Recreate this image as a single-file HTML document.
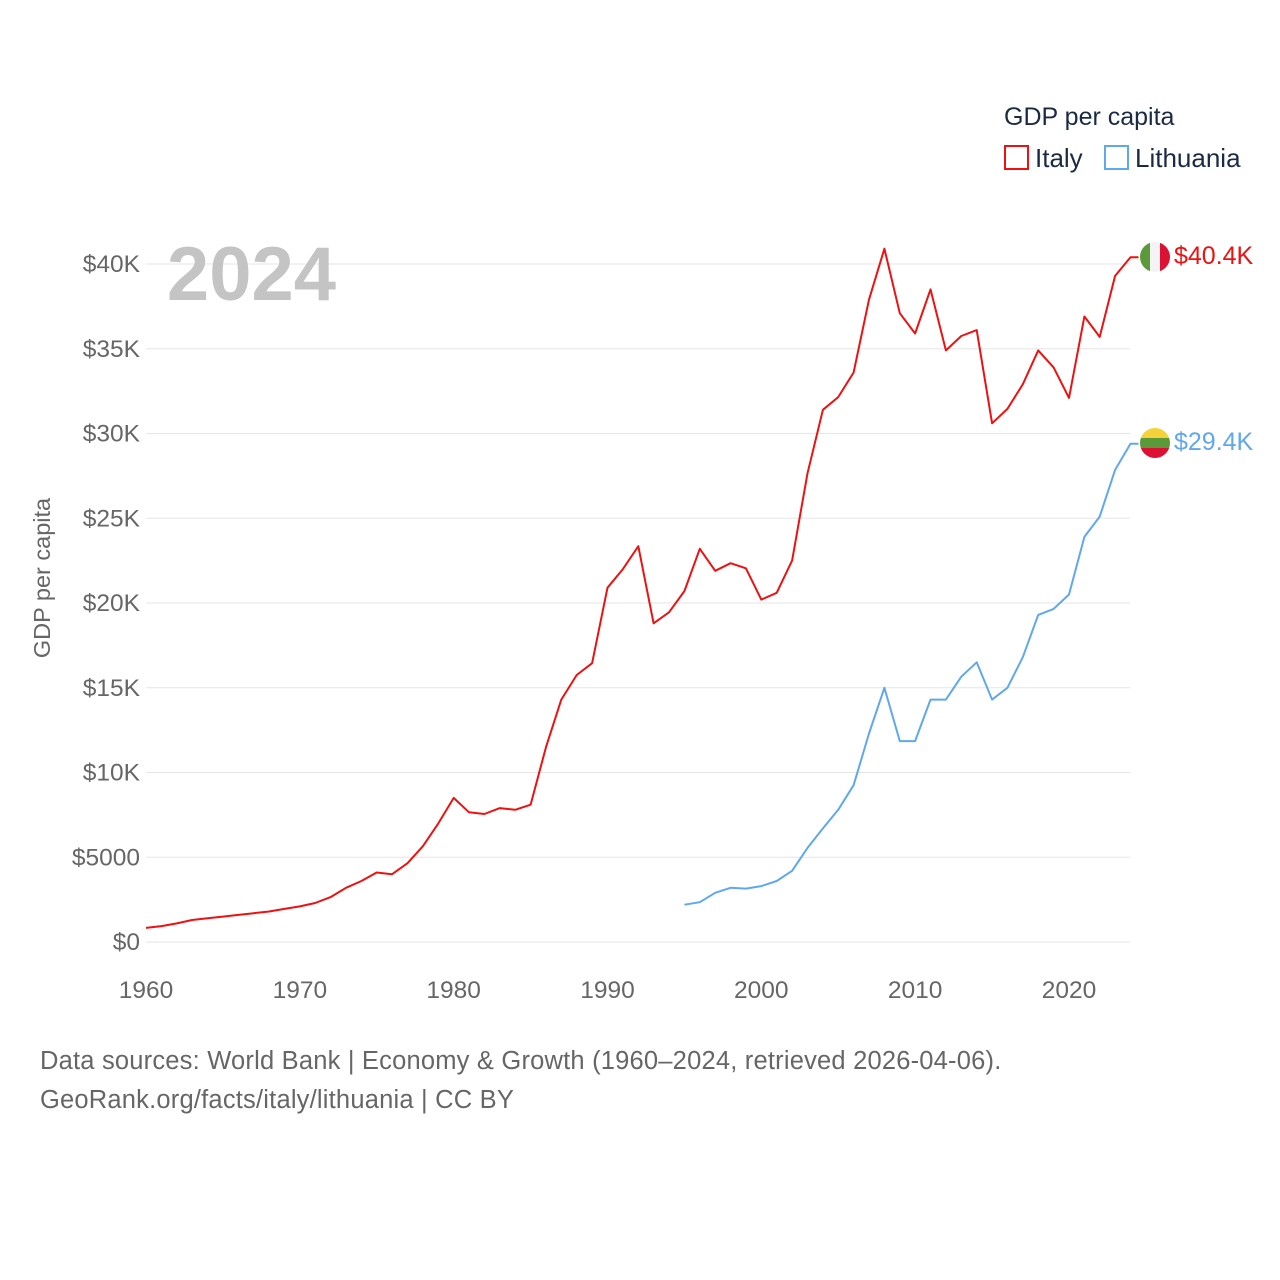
<!DOCTYPE html>
<html><head><meta charset="utf-8"><style>
body{margin:0;background:#fff;font-family:"Liberation Sans",sans-serif;}
svg{display:block}
</style></head><body>
<svg id="chart" width="1280" height="1280" xmlns="http://www.w3.org/2000/svg">
<g id="grid"></g>
<g id="yt"></g>
<g id="xt"></g>
<text x="336" y="300" font-size="76" font-weight="bold" fill="#c4c4c4" text-anchor="end">2024</text>
<text transform="translate(50,578) rotate(-90)" font-size="23.5" fill="#666" text-anchor="middle">GDP per capita</text>
<text x="1004" y="125" font-size="25" fill="#1a2a44">GDP per capita</text>
<g><rect x="1005" y="146" width="23" height="23" fill="none" stroke="#ee1111" stroke-width="2"/><text x="1035" y="167" font-size="26" fill="#1a2a44">Italy</text></g>
<g><rect x="1105" y="146" width="23" height="23" fill="none" stroke="#5fa8ee" stroke-width="2"/><text x="1135" y="167" font-size="26" fill="#1a2a44">Lithuania</text></g>
<g id="series"></g>
<g>
<clipPath id="c1"><circle cx="1155" cy="257" r="15"/></clipPath>
<g clip-path="url(#c1)"><rect x="1140" y="242" width="10" height="30" fill="#5a9a3a"/><rect x="1150" y="242" width="10" height="30" fill="#f4f4f4"/><rect x="1160" y="242" width="10" height="30" fill="#dd1133"/></g></g>
<g>
<clipPath id="c2"><circle cx="1155" cy="443" r="15"/></clipPath>
<g clip-path="url(#c2)"><rect x="1140" y="428" width="30" height="10" fill="#f5d13a"/><rect x="1140" y="438" width="30" height="10" fill="#5a9a3a"/><rect x="1140" y="448" width="30" height="10" fill="#dd1133"/></g></g>
<text x="1174" y="264" font-size="25" fill="#ee1111">$40.4K</text>
<text x="1174" y="450" font-size="25" fill="#5fa8ee">$29.4K</text>
<text x="40" y="1069" font-size="25.5" letter-spacing="0.2" fill="#666">Data sources: World Bank | Economy &amp; Growth (1960–2024, retrieved 2026-04-06).</text>
<text x="40" y="1108" font-size="25.5" letter-spacing="0.2" fill="#666">GeoRank.org/facts/italy/lithuania | CC BY</text>
</svg>
<script>
const italyStart = 1960;
const italyValues = [0.83,0.94,1.1,1.3,1.4,1.5,1.6,1.7,1.8,1.95,2.1,2.3,2.65,3.2,3.6,4.1,4.0,4.65,5.65,7.0,8.5,7.65,7.55,7.9,7.8,8.1,11.5,14.3,15.75,16.45,20.9,22.0,23.35,18.8,19.45,20.7,23.2,21.9,22.35,22.05,20.2,20.6,22.5,27.65,31.4,32.15,33.6,37.9,40.9,37.1,35.9,38.5,34.9,35.75,36.1,30.6,31.45,32.9,34.9,33.9,32.1,36.9,35.7,39.3,40.4];
const lithStart = 1995;
const lithValues = [2.2,2.35,2.9,3.2,3.15,3.3,3.6,4.2,5.55,6.7,7.8,9.25,12.3,15.0,11.85,11.85,14.3,14.3,15.65,16.5,14.3,15.0,16.8,19.3,19.65,20.5,23.9,25.1,27.85,29.4];
const yTicks = [0,5,10,15,20,25,30,35,40];
const yTickLabels = ["$0","$5000","$10K","$15K","$20K","$25K","$30K","$35K","$40K"];
const xTicks = [1960,1970,1980,1990,2000,2010,2020];

const NS="http://www.w3.org/2000/svg";
const xs = yr => 146 + (yr-1960)*15.383;
const ys = v => 942 - v*16.95;
function mk(tag,attrs,parent){const e=document.createElementNS(NS,tag);for(const k in attrs)e.setAttribute(k,attrs[k]);parent.appendChild(e);return e;}
const grid=document.getElementById('grid'),yt=document.getElementById('yt'),xt=document.getElementById('xt'),series=document.getElementById('series');
yTicks.forEach((v,i)=>{
  const l=mk('line',{x1:146,x2:1130,y1:ys(v),y2:ys(v),stroke:'#e6e6e6','stroke-width':1},grid);
  
  
  const t=mk('text',{x:140,y:ys(v)+8,'font-size':24.5,fill:'#666','text-anchor':'end'},yt);
  t.textContent=yTickLabels[i];
  
  
});
xTicks.forEach(yr=>{
  const t=mk('text',{x:xs(yr),y:998,'font-size':24.5,fill:'#666','text-anchor':'middle'},xt);
  t.textContent=yr;
  
  
});
function line(start,vals,color,name){
  const pts=vals.map((v,i)=>xs(start+i).toFixed(1)+','+ys(v).toFixed(1));
  pts.push((xs(start+vals.length-1)+8).toFixed(1)+','+ys(vals[vals.length-1]).toFixed(1));
  const p=mk('polyline',{points:pts.join(' '),fill:'none',stroke:color,'stroke-width':2,'stroke-linejoin':'round'},series);
  
  
}
line(italyStart,italyValues,'#ee1111','italy-line');
line(lithStart,lithValues,'#5fa8ee','lithuania-line');
</script>
</body></html>
